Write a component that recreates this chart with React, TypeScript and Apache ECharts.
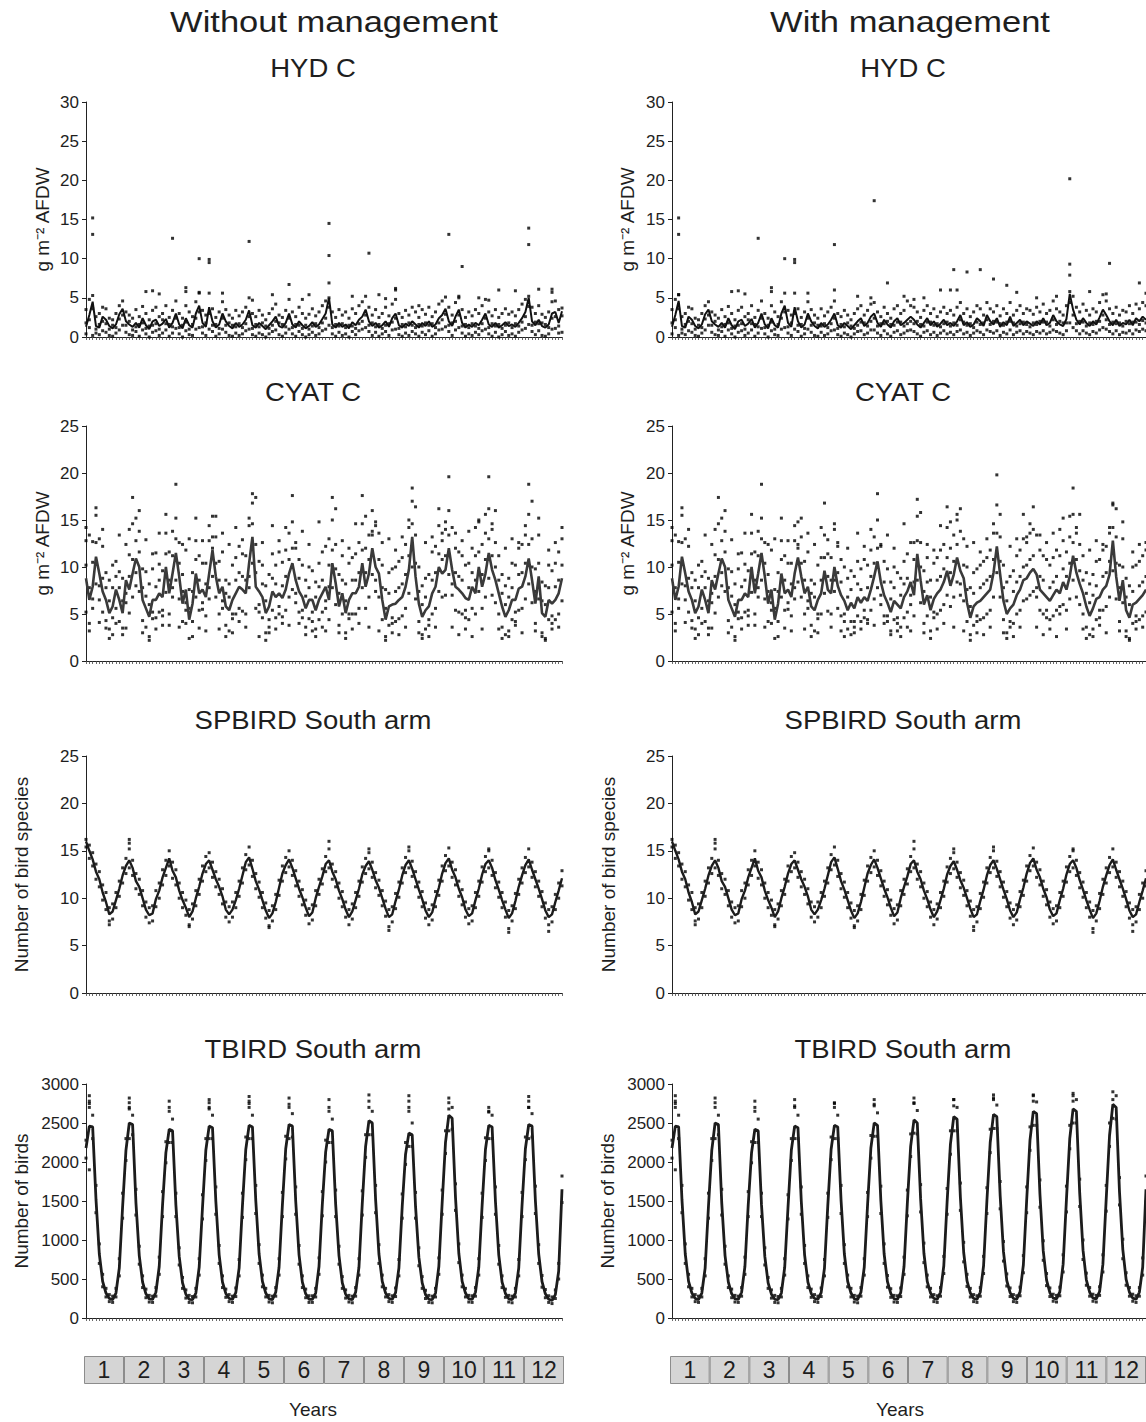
import React, { useEffect, useRef } from "react";
import * as echarts from "echarts";

const FONT = "Liberation Sans, Arial, Helvetica, sans-serif";
const N = 144;
const steps = Array.from({ length: N }, (_, i) => String(i + 1));
const years = ["1", "2", "3", "4", "5", "6", "7", "8", "9", "10", "11", "12"];

// ---------- HYD C ----------
const hydL = [
  1.3,2.8,4.5,1.4,1.2,2.6,2.2,1.4,1.1,1.6,2.9,3.6,
  2.0,1.6,1.3,1.8,1.2,2.4,1.5,1.0,2.0,2.2,1.4,1.7,
  2.3,1.2,1.8,3.0,1.6,1.1,2.4,1.5,1.2,3.0,4.0,1.8,
  1.3,3.8,2.0,1.2,1.6,3.0,2.0,1.4,1.1,1.8,1.3,1.6,
  2.2,3.4,1.5,1.2,1.8,1.4,1.0,1.5,2.0,2.6,1.4,1.2,
  1.8,3.0,1.6,1.2,2.0,1.5,1.1,1.4,1.9,1.3,1.6,2.3,
  3.0,5.0,1.6,1.2,1.8,1.3,1.6,1.1,1.9,1.5,2.2,2.6,
  3.5,2.0,1.4,1.8,1.2,1.5,2.0,1.3,2.4,3.0,1.5,1.2,
  1.7,1.4,2.0,1.6,1.2,1.8,1.4,2.0,1.3,1.6,2.4,2.8,
  3.6,2.0,1.4,2.6,3.5,1.8,1.2,1.6,1.3,1.8,1.5,2.2,
  3.0,1.6,1.3,1.8,1.2,1.5,1.9,1.4,1.6,1.3,1.8,2.4,
  3.2,5.0,2.0,1.5,2.2,1.4,1.2,1.6,3.0,3.2,1.8,3.3,
];
const hydLHi = [
  3.5,4.8,5.3,2.6,3.0,3.8,3.6,2.4,2.2,3.0,4.0,4.6,
  3.2,2.8,2.4,3.5,2.6,3.9,3.0,2.2,3.4,3.8,2.6,3.0,
  4.0,2.5,3.4,4.6,3.0,2.4,4.0,3.2,2.6,4.5,5.6,3.4,
  2.8,5.6,3.6,2.5,3.2,4.5,3.5,2.8,2.4,3.4,2.7,3.2,
  3.8,5.0,3.0,2.6,3.4,2.8,2.2,3.0,3.6,4.2,2.8,2.5,
  3.4,4.8,3.2,2.6,3.8,3.0,2.4,2.9,3.6,2.7,3.2,4.0,
  4.6,5.0,3.2,2.5,3.5,2.8,3.2,2.4,3.6,3.0,4.0,4.5,
  5.2,3.8,2.8,3.5,2.5,3.0,3.8,2.7,4.2,4.8,3.0,2.5,
  3.4,2.8,3.8,3.2,2.5,3.5,2.9,3.8,2.6,3.2,4.2,4.6,
  5.1,3.8,2.8,4.4,5.2,3.5,2.5,3.2,2.7,3.5,3.0,4.0,
  4.8,3.2,2.7,3.5,2.5,3.0,3.6,2.9,3.2,2.7,3.5,4.2,
  4.8,5.2,3.8,3.0,4.0,2.9,2.5,3.2,4.5,4.6,3.5,3.7,
];
const hydLMid = [
  1.8,2.2,3.6,1.0,1.6,2.0,1.7,1.0,1.5,1.2,2.3,2.8,
  1.5,2.0,0.9,1.3,1.6,1.8,1.1,1.4,1.5,1.7,1.0,2.2,
  1.7,1.6,1.3,2.4,1.2,1.5,1.9,1.0,1.6,2.4,3.2,1.3,
  1.8,3.0,1.5,1.6,1.1,2.4,1.5,1.8,1.5,1.3,1.7,1.2,
  1.7,2.6,1.1,1.6,1.3,1.8,1.4,1.1,1.5,2.0,1.8,1.6,
  1.3,2.4,1.2,1.6,1.5,1.1,1.5,1.0,1.4,1.7,1.2,1.8,
  2.4,3.8,1.2,1.6,1.4,1.7,1.2,1.5,1.4,1.1,1.7,2.0,
  2.8,1.5,1.8,1.3,1.6,1.1,1.5,1.7,1.9,2.4,1.1,1.6,
  1.3,1.8,1.5,1.2,1.6,1.4,1.8,1.5,1.7,1.2,1.8,2.2,
  2.9,1.5,1.8,2.0,2.8,1.4,1.6,1.2,1.7,1.4,1.1,1.7,
  2.4,1.2,1.7,1.4,1.6,1.1,1.5,1.8,1.2,1.7,1.4,1.9,
  2.6,3.9,1.5,1.9,1.7,1.8,1.6,1.2,2.4,2.6,1.4,2.7,
];
const hydLLo = [
  0.4,1.2,0.2,0.5,0.3,0.8,0.6,0.2,0.1,0.5,0.9,1.5,
  0.6,0.3,0.2,0.7,0.1,0.9,0.4,0.0,0.6,0.8,0.2,0.5,
  0.9,0.1,0.5,1.1,0.4,0.0,0.8,0.3,0.2,1.0,1.2,0.5,
  0.2,1.0,0.7,0.1,0.4,1.0,0.6,0.2,0.1,0.5,0.2,0.4,
  0.8,1.0,0.3,0.1,0.5,0.3,0.0,0.4,0.7,0.9,0.3,0.1,
  0.5,1.0,0.4,0.1,0.7,0.3,0.0,0.3,0.6,0.2,0.4,0.8,
  1.0,1.5,0.4,0.1,0.6,0.2,0.4,0.0,0.7,0.3,0.8,1.0,
  1.2,0.7,0.2,0.6,0.1,0.4,0.7,0.2,0.9,1.0,0.3,0.1,
  0.5,0.2,0.7,0.4,0.1,0.6,0.3,0.8,0.1,0.4,0.9,1.0,
  1.3,0.7,0.2,0.9,1.2,0.5,0.1,0.4,0.2,0.6,0.3,0.8,
  1.0,0.4,0.1,0.6,0.0,0.3,0.7,0.2,0.4,0.1,0.6,0.9,
  1.1,1.6,0.7,0.3,0.8,0.2,0.1,0.4,1.0,1.1,0.5,0.6,
];
const hydLOut = [
  [2,15.2],[2,13.1],[26,12.6],[34,10.0],[37,9.9],[37,9.5],[49,12.2],[73,14.5],[73,10.4],[73,6.9],
  [85,10.7],[109,13.1],[113,9.0],[133,13.9],[133,11.8],[18,5.8],[20,5.9],[22,5.5],[30,6.3],[30,5.8],
  [34,5.7],[41,5.6],[61,6.7],[93,6.2],[93,6.0],[124,6.0],[129,5.9],[136,6.1],[140,6.1],[140,5.7],
  [50,4.7],[56,5.4],[65,4.8],[67,5.4],[80,5.2],[88,5.4],[90,4.9],[100,4.0],[112,5.0],[118,5.0],[121,4.7],
];

const hydR = [
  1.3,2.8,4.6,1.4,1.2,2.6,2.2,1.4,1.1,1.6,2.9,3.5,
  2.0,1.6,1.3,1.8,1.2,2.4,1.5,1.0,2.0,2.2,1.4,1.7,
  2.3,1.2,1.8,3.0,1.6,1.1,2.4,1.5,1.2,3.0,4.0,1.8,
  1.3,3.8,2.0,1.2,1.6,3.0,2.0,1.4,1.1,1.8,1.3,1.6,
  2.2,3.0,1.5,1.2,1.8,1.4,1.0,1.5,2.0,2.4,1.4,1.8,
  2.6,3.0,1.8,1.3,2.2,1.6,1.2,2.0,2.4,1.5,1.8,2.2,
  2.6,2.2,1.6,1.2,1.8,2.4,1.5,2.0,1.3,1.7,2.2,1.5,
  1.8,1.4,2.0,2.8,1.5,1.9,1.3,1.6,2.4,2.0,1.4,2.8,
  2.0,1.6,2.4,1.3,1.9,1.5,2.6,1.4,1.8,2.2,1.5,2.0,
  1.7,1.4,2.0,1.6,2.4,1.5,1.8,2.8,2.0,1.6,1.4,2.3,
  5.5,3.5,2.2,1.6,2.4,1.8,1.4,2.0,1.6,2.5,3.5,2.8,
  2.0,1.5,2.2,1.4,1.8,1.6,2.2,1.5,2.4,2.0,2.6,2.2,
];
const hydRHi = [
  3.5,4.8,5.4,2.6,3.0,3.8,3.6,2.4,2.2,3.0,4.0,4.5,
  3.2,2.8,2.4,3.5,2.6,3.9,3.0,2.2,3.4,3.8,2.6,3.0,
  4.0,2.5,3.4,4.6,3.0,2.4,4.0,3.2,2.6,4.5,5.6,3.4,
  2.8,5.6,3.6,2.5,3.2,4.5,3.5,2.8,2.4,3.6,2.7,3.2,
  3.8,4.6,3.0,2.6,3.4,2.8,2.2,3.0,3.6,4.0,2.8,3.4,
  4.2,4.4,3.2,2.6,3.8,3.0,2.4,3.6,4.0,3.0,3.4,4.6,
  4.0,3.8,3.2,2.5,3.4,4.0,3.0,3.6,2.6,3.2,3.8,3.0,
  3.4,2.8,3.8,4.4,3.0,3.6,2.6,3.2,4.0,3.6,2.8,4.4,
  3.6,3.2,4.0,2.7,3.6,3.0,4.4,2.8,3.4,4.0,3.0,3.6,
  3.4,2.9,3.8,3.2,4.2,3.0,3.4,4.6,3.6,3.2,2.8,4.0,
  5.8,5.2,3.8,3.2,4.2,3.4,2.8,3.6,3.2,4.4,5.4,4.6,
  3.6,3.0,3.8,2.8,3.4,3.2,4.0,3.0,4.2,3.6,4.4,4.0,
];
const hydRMid = [
  1.8,2.2,3.6,1.0,1.6,2.0,1.7,1.0,1.5,1.2,2.3,2.8,
  1.5,2.0,0.9,1.3,1.6,1.8,1.1,1.4,1.5,1.7,1.0,2.2,
  1.7,1.6,1.3,2.4,1.2,1.5,1.9,1.0,1.6,2.4,3.2,1.3,
  1.8,3.0,1.5,1.6,1.1,2.4,1.5,1.8,1.5,1.4,1.7,1.2,
  1.7,2.4,1.1,1.6,1.3,1.8,1.4,1.1,1.5,1.9,1.8,1.4,
  2.0,2.4,1.4,1.7,1.7,2.0,1.6,1.5,1.9,1.9,1.4,1.7,
  2.0,1.7,2.0,1.6,1.4,1.9,1.9,1.5,1.7,1.3,1.7,1.9,
  1.4,1.8,1.5,2.2,1.9,1.5,1.7,1.2,1.9,1.6,1.8,2.2,
  1.6,2.0,1.9,1.7,1.5,1.9,2.0,1.8,1.4,1.7,1.9,1.6,
  1.3,1.8,1.6,2.0,1.9,1.9,1.4,2.2,1.6,2.0,1.8,1.8,
  4.4,2.8,1.7,2.0,1.9,1.4,1.8,1.6,2.0,2.0,2.8,2.2,
  1.6,1.9,1.7,1.8,1.4,2.0,1.7,1.9,1.9,1.6,2.1,1.8,
];
const hydRLo = [
  0.4,1.2,0.2,0.5,0.3,0.8,0.6,0.2,0.1,0.5,0.9,1.5,
  0.6,0.3,0.2,0.7,0.1,0.9,0.4,0.0,0.6,0.8,0.2,0.5,
  0.9,0.1,0.5,1.1,0.4,0.0,0.8,0.3,0.2,1.0,1.2,0.5,
  0.2,1.0,0.7,0.1,0.4,1.0,0.6,0.2,0.1,0.6,0.2,0.4,
  0.8,0.9,0.3,0.1,0.5,0.3,0.0,0.4,0.7,0.8,0.3,0.5,
  0.9,0.9,0.5,0.2,0.8,0.4,0.1,0.6,0.8,0.3,0.5,0.8,
  0.9,0.7,0.4,0.1,0.6,0.8,0.3,0.6,0.2,0.5,0.8,0.4,
  0.6,0.3,0.7,0.9,0.4,0.6,0.2,0.5,0.8,0.6,0.3,0.9,
  0.7,0.5,0.8,0.2,0.6,0.4,0.9,0.3,0.6,0.8,0.4,0.7,
  0.5,0.3,0.7,0.5,0.8,0.4,0.6,0.9,0.7,0.5,0.3,0.8,
  1.8,1.2,0.8,0.4,0.8,0.5,0.3,0.7,0.5,0.9,1.2,1.0,
  0.7,0.4,0.8,0.3,0.6,0.5,0.8,0.4,0.9,0.7,1.0,0.8,
];
const hydROut = [
  [2,15.2],[2,13.1],[2,5.4],[26,12.6],[34,10.0],[37,9.9],[37,9.5],[49,11.8],[49,6.0],[61,17.4],
  [65,6.9],[85,8.6],[89,8.3],[93,8.6],[97,7.4],[101,6.6],[120,20.2],[120,9.3],[120,7.9],[132,9.4],
  [141,6.9],[81,6.0],[84,6.0],[86,6.0],[18,5.8],[20,5.9],[22,5.5],[30,6.3],[30,5.8],[41,5.6],
  [56,5.2],[60,5.0],[70,5.2],[73,4.8],[76,5.0],[104,5.7],[110,5.0],[116,5.2],[126,5.8],[131,5.5],[143,5.6],
];

// ---------- CYAT C ----------
const cyatL = [
  8.8,6.5,7.9,11.1,9.3,7.4,6.5,5.1,5.8,7.6,6.5,5.1,
  8.6,7.6,9.3,10.9,10.0,6.5,5.6,4.7,6.5,6.5,7.2,6.8,
  10.0,7.2,9.3,11.5,9.0,6.1,7.6,4.4,6.1,9.3,7.2,7.6,
  6.8,9.3,11.8,9.0,7.2,7.9,5.8,5.4,6.5,7.2,7.9,7.6,
  7.2,10.4,13.2,7.9,7.4,6.8,5.1,5.8,7.4,6.8,7.2,6.7,
  7.6,9.3,10.4,8.6,7.4,6.8,5.6,6.5,6.5,5.4,6.5,7.2,
  7.9,6.5,10.4,8.3,5.8,7.2,5.1,6.5,7.2,7.2,7.9,10.4,
  7.9,9.3,12.0,10.0,9.3,6.5,4.4,5.8,6.0,6.1,6.5,6.8,
  7.9,9.7,13.2,9.0,6.1,4.7,5.4,5.8,7.2,7.9,10.0,9.3,
  9.7,12.0,9.7,7.9,7.6,7.2,6.7,6.5,7.9,7.2,10.0,7.9,
  9.3,11.5,9.7,8.6,7.2,5.8,4.7,5.4,6.5,6.5,7.7,7.9,
  9.0,10.9,8.6,6.1,9.0,5.1,4.7,6.5,6.1,6.5,7.2,8.8,
];
const cyatLUp = [
  12.8,13.4,10.5,15.5,13.0,12.2,9.4,8.6,7.8,10.6,9.5,8.8,
  12.4,11.3,14.6,15.2,13.8,9.8,9.5,8.2,9.8,11.5,10.3,9.6,
  13.6,11.6,13.8,15.2,12.6,9.2,11.8,7.6,9.4,12.8,11.2,10.4,
  10.4,12.8,15.4,13.2,10.6,11.6,8.6,8.2,10.2,11.0,12.2,11.4,
  11.2,14.4,16.8,12.4,10.6,10.2,8.0,9.2,11.4,10.2,11.6,10.5,
  11.8,13.6,14.8,12.0,10.8,10.2,8.6,10.0,9.6,8.4,10.4,11.6,
  12.2,10.2,15.0,12.4,9.2,11.2,8.2,10.4,11.0,11.4,12.6,14.6,
  12.0,13.4,16.0,14.4,13.6,10.2,7.6,9.4,9.8,10.0,10.6,11.0,
  12.4,14.2,17.0,13.4,10.0,8.0,8.8,9.2,11.6,12.2,14.4,13.6,
  14.0,16.0,14.2,12.0,11.6,11.2,10.2,10.4,12.0,11.2,14.8,12.4,
  13.6,16.2,14.0,12.6,11.2,9.2,8.0,8.8,10.4,10.2,12.0,12.4,
  13.4,15.6,13.0,9.8,13.4,8.4,8.0,10.2,9.6,10.4,11.6,14.2,
];
const cyatLMid = [
  10.2,7.8,6.6,12.6,8.0,8.8,7.8,6.4,4.6,9.0,7.8,6.4,
  7.2,9.0,10.8,9.4,11.6,7.8,6.9,6.0,5.2,7.9,8.6,5.4,
  11.4,8.6,7.8,13.0,10.4,7.4,6.2,5.6,7.4,10.8,8.6,6.2,
  8.2,7.8,13.2,10.4,8.6,6.4,7.2,6.8,5.0,8.6,9.4,9.0,
  8.6,9.0,14.6,9.4,6.0,8.2,6.4,4.4,8.8,8.2,5.8,8.0,
  9.0,10.8,12.0,7.2,8.8,5.4,6.9,7.8,5.2,6.8,7.9,8.6,
  6.4,7.9,11.8,9.8,7.2,8.6,6.4,5.0,8.6,8.6,9.4,11.8,
  9.4,10.8,13.4,8.6,10.8,7.8,5.6,7.2,4.6,7.4,7.8,8.2,
  9.2,11.2,14.6,10.4,7.4,6.0,6.8,4.4,8.6,9.4,11.4,10.8,
  11.2,13.4,8.2,9.4,9.0,8.6,5.4,7.8,9.4,8.6,11.6,9.2,
  10.8,13.0,11.2,10.0,8.6,7.2,6.0,6.8,7.8,5.2,9.2,9.4,
  10.4,12.4,10.0,7.4,10.4,6.4,6.0,7.8,4.8,7.9,8.6,10.2,
];
const cyatLDn = [
  5.2,4.0,5.6,8.2,6.5,5.2,4.3,3.4,2.8,5.6,4.2,3.5,
  6.2,5.1,6.8,8.0,7.4,4.3,3.6,2.6,4.5,4.6,5.2,4.8,
  7.3,5.0,6.8,8.6,6.6,4.2,5.4,2.4,4.2,6.8,5.4,5.5,
  4.8,6.6,9.0,6.8,5.0,5.6,3.8,3.2,4.5,5.0,5.6,5.3,
  5.0,7.8,10.4,5.6,5.2,4.6,3.0,3.6,5.4,4.6,5.0,4.7,
  5.4,6.8,7.6,6.2,5.2,4.6,3.6,4.5,4.2,3.4,4.4,5.2,
  5.6,4.4,7.8,6.0,3.8,5.0,3.0,4.5,5.0,5.0,5.6,7.8,
  5.6,6.8,9.2,7.4,6.8,4.4,2.6,3.8,4.0,4.2,4.5,4.8,
  5.6,7.2,10.0,6.6,4.2,2.8,3.4,3.8,5.0,5.6,7.4,6.8,
  7.0,9.2,7.0,5.4,5.2,5.0,4.6,4.4,5.6,5.0,7.4,5.6,
  6.8,8.8,7.0,6.2,5.0,3.6,2.8,3.2,4.4,4.2,5.4,5.6,
  6.6,8.2,6.2,4.0,6.6,3.0,2.4,4.4,4.0,4.4,5.0,6.4,
];
const cyatLFar = [
  14.2,3.2,12.7,16.3,4.1,14.0,3.5,2.4,10.2,4.0,13.4,2.8,
  3.5,14.0,17.4,12.8,16.0,3.0,12.9,2.2,11.4,3.4,13.6,3.8,
  15.6,3.8,11.2,18.8,3.6,12.4,4.0,13.0,2.6,15.2,3.5,12.8,
  3.2,14.4,12.0,15.4,3.4,13.6,2.6,12.4,3.0,14.2,4.2,12.9,
  3.6,15.2,17.8,17.4,2.6,12.6,2.2,3.0,14.4,3.4,12.8,4.0,
  14.2,3.8,17.6,12.6,4.0,13.8,2.8,12.4,3.2,2.6,14.8,3.6,
  3.2,13.0,17.4,16.2,3.0,12.8,2.4,12.0,3.4,14.6,4.0,17.6,
  15.4,3.6,13.8,14.8,3.2,12.6,2.2,13.0,3.0,11.8,2.8,13.2,
  3.6,15.0,18.4,16.4,3.0,2.4,12.6,2.6,13.2,3.6,16.2,12.8,
  14.8,19.6,3.6,13.6,2.8,12.8,3.4,13.8,2.6,14.2,15.0,3.4,
  15.6,19.6,14.6,16.0,3.4,2.4,12.0,2.6,13.0,3.8,12.6,3.0,
  14.4,18.8,17.0,3.2,15.2,2.6,2.2,11.8,3.4,12.6,3.6,13.0,
];

const cyatR = [
  8.8,6.5,7.9,11.1,9.3,7.4,6.5,5.1,5.8,7.6,6.5,5.1,
  8.6,7.6,9.3,10.9,10.0,6.5,5.6,4.7,6.5,6.5,7.2,6.8,
  10.0,7.2,9.3,11.5,9.0,6.1,7.6,4.4,6.1,9.3,7.2,7.6,
  6.8,9.3,11.0,9.0,7.2,7.9,5.8,5.4,6.5,7.2,9.6,7.6,
  7.2,10.0,8.0,7.0,6.4,5.4,6.2,5.6,6.8,6.2,6.8,6.4,
  7.6,9.0,10.6,8.4,7.0,6.2,5.2,6.4,6.0,5.6,6.8,7.4,
  8.4,7.0,11.4,8.6,6.0,7.0,5.4,6.6,7.2,7.6,8.4,9.6,
  8.0,9.2,11.0,9.6,8.8,6.2,4.6,5.8,6.2,6.4,6.8,7.2,
  7.6,9.4,12.2,9.2,6.4,5.0,5.6,6.0,7.0,7.6,8.6,8.8,
  9.4,9.8,9.2,7.6,7.2,6.8,6.4,7.0,7.6,7.2,8.4,7.6,
  9.0,11.2,9.4,8.2,7.2,5.8,4.8,5.6,6.6,6.8,7.6,8.0,
  9.2,12.8,9.0,6.4,8.6,5.4,4.6,6.0,6.2,6.6,7.0,7.6,
];
const cyatRUp = [
  12.8,13.4,10.5,15.5,13.0,12.2,9.4,8.6,7.8,10.6,9.5,8.8,
  12.4,11.3,14.6,15.2,13.8,9.8,9.5,8.2,9.8,11.5,10.3,9.6,
  13.6,11.6,13.8,15.2,12.6,9.2,11.8,7.6,9.4,12.8,11.2,10.4,
  10.4,12.8,14.8,13.2,10.6,11.6,8.6,8.2,10.2,11.0,13.4,11.4,
  11.0,14.0,12.2,10.8,10.0,8.8,9.6,9.0,10.6,9.8,10.8,10.2,
  11.8,13.2,15.0,12.2,10.6,9.8,8.4,10.0,9.4,8.8,10.6,11.4,
  12.6,10.8,15.4,12.6,9.6,11.0,8.6,10.4,11.0,11.8,12.4,14.2,
  12.0,13.4,15.6,13.8,13.0,10.0,7.8,9.4,9.8,10.2,10.6,11.0,
  11.8,13.6,16.6,13.2,10.2,8.4,9.0,9.6,11.2,11.8,13.0,13.2,
  13.6,14.0,13.4,11.8,11.2,10.8,10.2,11.0,11.8,11.2,12.8,11.6,
  13.2,15.6,13.6,12.4,11.2,9.4,8.2,9.2,10.6,10.8,11.8,12.2,
  13.6,16.8,13.2,10.2,13.0,8.8,8.0,10.0,10.2,10.6,11.2,11.8,
];
const cyatRMid = [
  10.2,7.8,6.6,12.6,8.0,8.8,7.8,6.4,4.6,9.0,7.8,6.4,
  7.2,9.0,10.8,9.4,11.6,7.8,6.9,6.0,5.2,7.9,8.6,5.4,
  11.4,8.6,7.8,13.0,10.4,7.4,6.2,5.6,7.4,10.8,8.6,6.2,
  8.2,7.8,12.4,10.4,8.6,6.4,7.2,6.8,5.0,8.6,11.0,9.0,
  8.6,8.6,9.4,8.4,5.0,6.8,7.6,4.2,8.2,7.6,5.4,7.8,
  9.0,10.4,12.0,7.0,8.4,4.8,6.6,7.8,4.6,7.0,8.2,8.8,
  7.0,8.4,12.8,10.0,7.4,8.4,6.8,5.2,8.6,9.0,9.8,11.0,
  9.4,10.6,12.4,8.2,10.2,7.6,5.8,7.2,4.8,7.8,8.2,8.6,
  9.0,10.8,13.6,10.6,7.8,6.4,4.2,7.4,8.4,9.0,10.0,10.2,
  10.8,11.2,7.8,9.0,8.6,5.4,7.8,8.4,9.0,5.8,9.8,9.0,
  10.4,12.6,10.8,9.6,8.6,7.2,6.2,7.0,8.0,5.4,9.0,9.4,
  10.6,14.2,10.4,7.8,10.0,6.8,6.0,7.4,4.8,8.0,8.4,9.0,
];
const cyatRDn = [
  5.2,4.0,5.6,8.2,6.5,5.2,4.3,3.4,2.8,5.6,4.2,3.5,
  6.2,5.1,6.8,8.0,7.4,4.3,3.6,2.6,4.5,4.6,5.2,4.8,
  7.3,5.0,6.8,8.6,6.6,4.2,5.4,2.4,4.2,6.8,5.4,5.5,
  4.8,6.6,8.4,6.8,5.0,5.6,3.8,3.2,4.5,5.0,7.2,5.3,
  5.0,7.4,5.6,4.8,4.2,3.4,4.2,3.6,4.8,4.2,4.6,4.4,
  5.4,6.6,7.8,6.0,4.8,4.2,3.2,4.4,4.0,3.6,4.6,5.2,
  6.0,4.8,8.6,6.2,4.0,4.8,3.2,4.6,5.0,5.4,6.0,7.0,
  5.8,6.8,8.4,7.0,6.4,4.2,2.8,3.8,4.2,4.4,4.6,5.0,
  5.4,6.8,9.4,6.8,4.4,3.0,3.6,4.0,5.0,5.4,6.4,6.6,
  7.0,7.4,6.8,5.4,5.0,4.6,4.4,4.8,5.4,5.0,6.0,5.4,
  6.6,8.6,6.8,6.0,5.0,3.6,2.8,3.4,4.4,4.6,5.4,5.8,
  6.8,9.6,6.6,4.2,6.2,3.2,2.4,4.0,4.2,4.4,4.8,5.2,
];
const cyatRFar = [
  14.2,3.2,12.7,16.3,4.1,14.0,3.5,2.4,10.2,4.0,13.4,2.8,
  3.5,14.0,17.4,12.8,16.0,3.0,12.9,2.2,11.4,3.4,13.6,3.8,
  15.6,3.8,11.2,18.8,3.6,12.4,4.0,13.0,2.6,15.2,3.5,12.8,
  3.2,14.4,12.0,15.2,3.4,13.6,2.6,12.4,3.0,14.2,16.8,12.9,
  3.6,14.6,12.6,3.2,2.6,12.0,2.8,3.0,13.6,3.4,12.2,4.0,
  14.0,3.8,17.8,12.4,4.0,13.4,2.8,12.0,3.2,2.6,14.6,3.6,
  3.2,12.6,17.2,15.8,3.0,12.4,2.4,11.8,3.4,14.4,4.0,16.4,
  14.8,3.6,15.0,16.2,3.2,12.2,2.2,12.6,3.0,11.6,2.8,13.0,
  3.6,14.6,19.8,15.6,3.0,2.4,12.2,2.6,13.0,3.6,15.6,12.6,
  14.6,16.4,3.6,13.4,2.8,12.6,3.4,13.6,2.6,14.0,15.2,3.4,
  15.4,18.4,14.2,15.6,3.4,2.4,11.8,2.6,12.8,3.8,12.4,3.0,
  14.2,16.6,16.2,3.2,14.8,2.6,2.2,11.6,3.4,12.4,3.6,12.6,
];

// ---------- SPBIRD South arm (same in both scenarios) ----------
const spbird = [
  16.0,15.0,14.1,12.8,12.0,10.6,9.6,8.3,8.6,9.8,11.0,12.4,
  13.4,14.0,13.2,11.8,11.2,10.0,8.8,8.2,8.4,9.9,10.8,12.2,
  13.2,14.2,12.9,12.2,10.8,9.8,9.0,8.0,8.6,10.0,11.2,12.6,
  13.6,14.0,13.0,12.0,11.2,10.2,8.8,8.3,8.8,9.8,11.0,12.4,
  13.8,14.3,13.1,11.8,10.9,9.8,8.7,7.9,8.4,9.6,11.1,12.6,
  13.5,14.1,13.2,12.1,11.0,10.1,9.0,8.1,8.5,10.0,11.2,12.3,
  13.6,14.0,12.8,12.0,10.8,9.9,8.8,8.0,8.6,9.8,11.0,12.5,
  13.4,13.9,13.0,11.9,11.1,10.0,8.9,8.0,8.3,9.7,10.9,12.4,
  13.5,14.0,13.1,12.0,10.9,9.9,8.7,8.0,8.5,9.9,11.1,12.6,
  13.7,14.2,13.0,12.2,11.0,10.1,8.8,8.1,8.4,9.8,11.0,12.5,
  13.6,14.0,13.2,11.9,10.9,9.8,8.8,7.9,8.4,9.7,11.2,12.4,
  13.5,14.1,13.0,12.0,11.0,9.9,8.7,8.0,8.3,9.6,10.8,12.1,
];
const spbirdHi = [
  16.2,15.6,14.8,13.6,12.8,11.4,10.6,9.0,9.4,10.6,11.8,13.2,
  14.2,15.2,14.0,12.6,12.0,10.8,9.6,9.0,9.2,10.8,11.6,13.0,
  14.0,15.0,13.8,13.0,11.6,10.6,9.8,8.8,9.4,10.8,12.0,13.4,
  14.4,14.8,13.8,12.8,12.0,11.0,9.6,9.1,9.6,10.6,11.8,13.2,
  14.6,15.4,14.0,12.6,11.7,10.6,9.5,8.7,9.2,10.4,11.9,13.4,
  14.3,15.0,14.0,12.9,11.8,10.9,9.8,8.9,9.3,10.8,12.0,13.1,
  14.4,15.2,13.6,12.8,11.6,10.7,9.6,8.8,9.4,10.6,11.8,13.3,
  14.2,14.8,13.8,12.7,11.9,10.8,9.7,8.8,9.1,10.5,11.7,13.2,
  14.3,15.0,13.9,12.8,11.7,10.7,9.5,8.8,9.3,10.7,11.9,13.4,
  14.5,15.3,13.8,13.0,11.8,10.9,9.6,8.9,9.2,10.6,11.8,13.3,
  14.4,15.0,14.0,12.7,11.7,10.6,9.6,8.7,9.2,10.5,12.0,13.2,
  14.3,15.2,13.8,12.8,11.8,10.7,9.5,8.8,9.1,10.4,11.6,12.9,
];
const spbirdLo = [
  15.4,14.2,13.4,12.0,11.2,9.8,8.8,7.6,7.8,9.0,10.2,11.6,
  12.6,13.2,12.4,11.0,10.4,9.2,8.0,7.4,7.6,9.1,10.0,11.4,
  12.4,13.4,12.1,11.4,10.0,9.0,8.2,7.2,7.8,9.2,10.4,11.8,
  12.8,13.2,12.2,11.2,10.4,9.4,8.0,7.5,8.0,9.0,10.2,11.6,
  13.0,13.5,12.3,11.0,10.1,9.0,7.9,7.1,7.6,8.8,10.3,11.8,
  12.7,13.3,12.4,11.3,10.2,9.3,8.2,7.3,7.7,9.2,10.4,11.5,
  12.8,13.2,12.0,11.2,10.0,9.1,8.0,7.2,7.8,9.0,10.2,11.7,
  12.6,13.1,12.2,11.1,10.3,9.2,8.1,7.0,7.5,8.9,10.1,11.6,
  12.7,13.2,12.3,11.2,10.1,9.1,7.9,7.2,7.7,9.1,10.3,11.8,
  12.9,13.4,12.2,11.4,10.2,9.3,8.0,7.3,7.6,9.0,10.2,11.7,
  12.8,13.2,12.4,11.1,10.1,9.0,8.0,6.8,7.6,8.9,10.4,11.6,
  12.7,13.3,12.2,11.2,10.2,9.1,7.9,7.2,7.5,8.8,10.0,11.3,
];
const spbirdOut = [
  [13,16.2],[13,15.8],[73,16.0],[85,15.2],[97,15.4],[121,15.2],[7,7.2],[31,7.0],[55,6.9],[91,6.6],[127,6.4],[139,6.5],
];

// ---------- TBIRD South arm ----------
const tbirdL = [
  2180,2460,2450,1520,820,470,320,250,235,320,640,1430,
  2150,2500,2480,1480,800,460,310,245,240,330,660,1450,
  2120,2420,2400,1450,790,450,305,240,235,320,650,1420,
  2150,2460,2440,1500,810,460,315,250,240,325,640,1440,
  2160,2470,2450,1510,820,470,320,245,235,330,650,1450,
  2170,2480,2460,1500,810,460,310,240,240,320,660,1460,
  2130,2420,2400,1460,800,450,305,245,235,330,650,1470,
  2200,2530,2500,1520,820,470,320,250,240,325,640,1430,
  2100,2370,2350,1430,780,450,300,240,235,320,660,1480,
  2250,2600,2560,1550,830,470,320,245,240,330,650,1440,
  2160,2470,2450,1500,810,460,315,245,235,320,640,1450,
  2170,2480,2460,1510,820,465,310,240,225,300,600,1650,
];
const tbirdLHi = [
  2280,2750,2600,1700,950,560,380,300,280,380,760,1600,
  2300,2700,2600,1650,920,540,370,290,280,390,780,1620,
  2260,2650,2550,1600,900,520,360,290,275,380,760,1580,
  2300,2700,2600,1680,930,540,370,300,280,385,750,1600,
  2320,2750,2600,1700,940,550,380,290,280,390,760,1610,
  2330,2700,2620,1680,930,540,370,285,285,380,770,1620,
  2280,2650,2550,1640,920,530,360,290,280,390,760,1630,
  2350,2700,2650,1700,940,550,380,300,285,385,750,1590,
  2250,2650,2500,1610,900,530,355,290,280,380,770,1640,
  2400,2680,2700,1720,950,550,380,290,285,390,760,1600,
  2310,2650,2600,1680,930,540,370,290,280,380,750,1610,
  2320,2700,2620,1690,940,545,365,285,270,360,700,1820,
];
const tbirdLLo = [
  2050,1900,2300,1350,700,400,270,210,200,270,540,1280,
  2020,2300,2350,1320,690,390,260,205,200,280,560,1300,
  1990,2250,2250,1300,680,380,255,200,195,270,550,1270,
  2020,2300,2300,1330,700,390,265,210,200,275,540,1290,
  2030,2300,2300,1340,700,400,270,205,195,280,550,1300,
  2040,2300,2320,1330,690,390,260,200,200,270,560,1310,
  2000,2250,2250,1300,690,380,255,205,195,280,550,1320,
  2060,2350,2350,1350,700,400,270,210,200,275,540,1280,
  1970,2200,2200,1280,670,380,250,200,195,270,560,1330,
  2110,2400,2420,1380,710,400,270,205,200,280,550,1290,
  2020,2300,2300,1330,690,390,265,205,195,270,540,1300,
  2030,2300,2320,1340,700,395,260,200,185,250,500,1480,
];
const tbirdLPeak = [
  [1,2850],[1,2780],[1,2700],[13,2820],[13,2760],[13,2680],[25,2780],[25,2700],[37,2800],[37,2760],
  [37,2680],[49,2840],[49,2780],[49,2700],[61,2820],[61,2740],[73,2800],[73,2700],[85,2860],[85,2780],
  [97,2850],[97,2780],[97,2700],[109,2820],[109,2760],[121,2700],[121,2640],[133,2840],[133,2780],[133,2700],
];

const tbirdR = [
  2180,2460,2450,1520,820,470,320,250,235,320,640,1430,
  2150,2500,2480,1480,800,460,310,245,240,330,660,1450,
  2120,2420,2400,1450,790,450,305,240,235,320,650,1420,
  2150,2460,2440,1500,810,460,315,250,240,325,640,1440,
  2160,2470,2450,1510,820,470,320,245,235,330,650,1450,
  2180,2500,2470,1510,820,465,315,245,240,325,660,1470,
  2200,2540,2500,1530,830,470,320,250,240,330,670,1490,
  2230,2580,2550,1550,840,475,320,250,240,330,670,1500,
  2250,2610,2580,1570,850,480,325,250,240,335,680,1510,
  2280,2650,2620,1590,860,485,325,255,245,335,690,1520,
  2300,2680,2650,1600,870,490,330,255,245,340,690,1530,
  2340,2740,2700,1620,880,495,330,255,240,330,650,1650,
];
const tbirdRHi = [
  2280,2750,2600,1700,950,560,380,300,280,380,760,1600,
  2300,2700,2600,1650,920,540,370,290,280,390,780,1620,
  2260,2650,2550,1600,900,520,360,290,275,380,760,1580,
  2300,2700,2600,1680,930,540,370,300,280,385,750,1600,
  2320,2750,2600,1700,940,550,380,290,280,390,760,1610,
  2340,2720,2630,1690,950,545,375,290,285,385,780,1640,
  2360,2760,2660,1710,960,550,380,300,285,390,790,1660,
  2400,2800,2700,1730,970,560,380,300,285,390,790,1670,
  2420,2820,2730,1750,980,565,385,300,285,395,800,1680,
  2450,2850,2770,1770,990,570,385,305,290,395,810,1690,
  2470,2880,2800,1780,1000,575,390,305,290,400,810,1700,
  2500,2900,2850,1800,1010,580,390,305,285,390,770,1820,
];
const tbirdRLo = [
  2050,1900,2300,1350,700,400,270,210,200,270,540,1280,
  2020,2300,2350,1320,690,390,260,205,200,280,560,1300,
  1990,2250,2250,1300,680,380,255,200,195,270,550,1270,
  2020,2300,2300,1330,700,390,265,210,200,275,540,1290,
  2030,2300,2300,1340,700,400,270,205,195,280,550,1300,
  2050,2330,2330,1340,700,395,265,205,200,275,560,1310,
  2070,2370,2360,1360,710,400,270,210,200,280,570,1330,
  2100,2400,2400,1380,720,405,270,210,200,280,570,1340,
  2120,2430,2430,1400,730,410,275,210,200,285,580,1350,
  2150,2470,2470,1420,740,415,275,215,205,285,590,1360,
  2170,2500,2500,1430,750,420,280,215,205,290,590,1370,
  2200,2560,2550,1450,760,420,280,215,200,280,550,1490,
];
const tbirdRPeak = [
  [1,2850],[1,2780],[1,2700],[13,2820],[13,2760],[25,2780],[25,2700],[37,2800],[37,2720],[49,2760],
  [49,2700],[61,2800],[61,2740],[73,2820],[73,2750],[85,2800],[85,2720],[97,2860],[97,2800],[109,2860],
  [109,2780],[121,2850],[121,2780],[133,2800],
];

// ---------- layout ----------
const COL_X = [86, 672];
const PLOT_W = 476;
const ROWS = [
  { top: 102, h: 235, max: 30, interval: 5, name: "g m\u207B\u00B2 AFDW", gap: [34, 35], title: "HYD C", ty: 68, lw: 2.0 },
  { top: 426, h: 235, max: 25, interval: 5, name: "g m\u207B\u00B2 AFDW", gap: [34, 35], title: "CYAT C", ty: 392, lw: 2.6 },
  { top: 756, h: 237, max: 25, interval: 5, name: "Number of bird species", gap: [55, 54], title: "SPBIRD South arm", ty: 720, lw: 2.4 },
  { top: 1084, h: 234, max: 3000, interval: 500, name: "Number of birds", gap: [55, 55], title: "TBIRD South arm", ty: 1049, lw: 2.8 },
];
const LINE_COL = ["#111111", "#3a3a3a", "#1c1c1c", "#1c1c1c"];

const panels = [
  { row: 0, col: 0, line: hydL, dots: [hydLHi, hydLMid, hydLLo], extra: hydLOut },
  { row: 0, col: 1, line: hydR, dots: [hydRHi, hydRMid, hydRLo], extra: hydROut },
  { row: 1, col: 0, line: cyatL, dots: [cyatLUp, cyatLMid, cyatLDn, cyatLFar], extra: [] },
  { row: 1, col: 1, line: cyatR, dots: [cyatRUp, cyatRMid, cyatRDn, cyatRFar], extra: [] },
  { row: 2, col: 0, line: spbird, dots: [spbirdHi, spbirdLo], extra: spbirdOut },
  { row: 2, col: 1, line: spbird, dots: [spbirdHi, spbirdLo], extra: spbirdOut },
  { row: 3, col: 0, line: tbirdL, dots: [tbirdLHi, tbirdLLo], extra: tbirdLPeak },
  { row: 3, col: 1, line: tbirdR, dots: [tbirdRHi, tbirdRLo], extra: tbirdRPeak },
];

const TXT = "#1e1e1e";

function buildOption() {
  const grid: any[] = [];
  const xAxis: any[] = [];
  const yAxis: any[] = [];
  const series: any[] = [];
  const graphic: any[] = [];

  panels.forEach((p, gi) => {
    const r = ROWS[p.row];
    grid.push({ left: COL_X[p.col], top: r.top, width: PLOT_W, height: r.h, containLabel: false });
    xAxis.push({
      type: "category",
      gridIndex: gi,
      data: steps,
      boundaryGap: false,
      axisLine: { show: true, lineStyle: { color: "#222", width: 1 } },
      axisTick: { show: true, interval: 0, length: 3, lineStyle: { color: "#444", width: 0.8 } },
      axisLabel: { show: false },
      splitLine: { show: false },
    });
    yAxis.push({
      type: "value",
      gridIndex: gi,
      min: 0,
      max: r.max,
      interval: r.interval,
      name: r.name,
      nameLocation: "middle",
      nameGap: r.gap[p.col],
      nameTextStyle: { fontFamily: FONT, fontSize: 19, color: TXT },
      axisLine: { show: true, lineStyle: { color: "#222", width: 1 } },
      axisTick: { show: true, length: 4, lineStyle: { color: "#222" } },
      axisLabel: { fontFamily: FONT, fontSize: 17, color: TXT, margin: 7, formatter: (v: number) => String(v) },
      splitLine: { show: false },
    });
    p.dots.forEach((arr) => {
      series.push({
        type: "scatter",
        xAxisIndex: gi,
        yAxisIndex: gi,
        symbol: "rect",
        symbolSize: 3,
        itemStyle: { color: "#000" },
        data: arr.map((v, i) => [i, v]),
        z: 2,
      });
    });
    if (p.extra.length) {
      series.push({
        type: "scatter",
        xAxisIndex: gi,
        yAxisIndex: gi,
        symbol: "rect",
        symbolSize: 3,
        itemStyle: { color: "#000" },
        data: p.extra,
        z: 2,
      });
    }
    series.push({
      type: "line",
      xAxisIndex: gi,
      yAxisIndex: gi,
      data: p.line,
      symbol: "none",
      lineStyle: { color: LINE_COL[p.row], width: r.lw },
      z: 3,
    });
  });

  // year bands
  [84, 670].forEach((bx, k) => {
    const gi = grid.length;
    grid.push({ left: bx, top: 1356, width: 480, height: 28 });
    xAxis.push({ type: "category", gridIndex: gi, data: years, show: false, boundaryGap: true });
    yAxis.push({ type: "value", gridIndex: gi, min: 0, max: 1, show: false });
    series.push({
      type: "bar",
      xAxisIndex: gi,
      yAxisIndex: gi,
      data: years.map(() => 1),
      barWidth: "100%",
      barCategoryGap: 0,
      itemStyle: { color: "#d5d5d5", borderColor: "#8c8c8c", borderWidth: 1 },
      label: { show: true, position: "inside", formatter: "{b}", fontFamily: FONT, fontSize: 23, color: TXT },
      silent: true,
    });
    graphic.push({
      type: "text",
      x: k === 0 ? 313 : 900,
      y: 1409,
      style: { text: "Years", fontFamily: FONT, fontSize: 19, fill: TXT, align: "center", verticalAlign: "middle" },
    });
  });

  // titles
  graphic.push({
    type: "text", x: 334, y: 22, scaleX: 1.15,
    style: { text: "Without management", fontFamily: FONT, fontSize: 30, fill: TXT, align: "center", verticalAlign: "middle" },
  });
  graphic.push({
    type: "text", x: 910, y: 22, scaleX: 1.15,
    style: { text: "With management", fontFamily: FONT, fontSize: 30, fill: TXT, align: "center", verticalAlign: "middle" },
  });
  ROWS.forEach((r) => {
    [313, 903].forEach((cx) => {
      graphic.push({
        type: "text", x: cx, y: r.ty, scaleX: 1.1,
        style: { text: r.title, fontFamily: FONT, fontSize: 25, fill: TXT, align: "center", verticalAlign: "middle" },
      });
    });
  });

  return {
    animation: false,
    backgroundColor: "#ffffff",
    grid,
    xAxis,
    yAxis,
    series,
    graphic,
  };
}

export default function App() {
  const ref = useRef<HTMLDivElement>(null);
  useEffect(() => {
    if (!ref.current) return;
    const chart = echarts.init(ref.current, null, { renderer: "svg" });
    chart.setOption(buildOption() as any);
    return () => chart.dispose();
  }, []);
  return (
    <div
      ref={ref}
      style={{ position: "absolute", left: 0, top: 0, width: 1146, height: 1422, background: "#fff" }}
    />
  );
}
